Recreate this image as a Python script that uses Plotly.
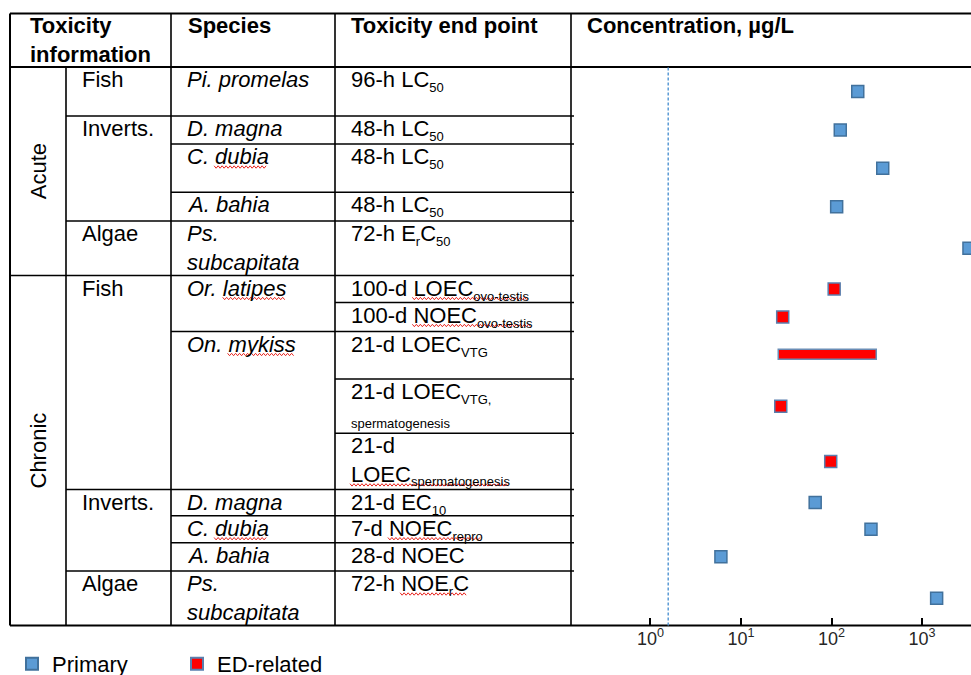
import plotly.graph_objects as go

W, H = 971, 675


def sub(s):
    return '<sub><span style="font-size:13px">' + s + '</span></sub>'


# ---------------- data ----------------
phases = ["Acute", "Chronic"]
phase_rows = [(0, 4), (5, 13)]
groups = ["Fish", "Inverts.", "Algae", "Fish", "Inverts.", "Algae"]
group_rows = [(0, 0), (1, 3), (4, 4), (5, 9), (10, 12), (13, 13)]
species = ["Pi. promelas", "D. magna", "C. dubia", "A. bahia", "Ps.<br>subcapitata",
           "Or. latipes", "On. mykiss", "D. magna", "C. dubia", "A. bahia", "Ps.<br>subcapitata"]
species_rows = [(0, 0), (1, 1), (2, 2), (3, 3), (4, 4), (5, 6), (7, 9),
                (10, 10), (11, 11), (12, 12), (13, 13)]
endpoints = [
    "96-h LC" + sub("50"),
    "48-h LC" + sub("50"),
    "48-h LC" + sub("50"),
    "48-h LC" + sub("50"),
    "72-h E" + sub("r") + "C" + sub("50"),
    "100-d LOEC" + sub("ovo-testis"),
    "100-d NOEC" + sub("ovo-testis"),
    "21-d LOEC" + sub("VTG"),
    "21-d LOEC" + sub("VTG,") + '<br><span style="font-size:13px">spermatogenesis</span>',
    "21-d<br>LOEC" + sub("spermatogenesis"),
    "21-d EC" + sub("10"),
    "7-d NOEC" + sub("repro"),
    "28-d NOEC",
    "72-h NOE" + sub("r") + "C",
]
primary_rows = [0, 1, 2, 3, 4, 10, 11, 12, 13]
primary_conc = [195, 125, 368, 114, 3300, 66, 273, 6.0, 1450]
ed_rows = [5, 6, 8, 9]
ed_conc = [107, 28.9, 27.5, 98]
ed_range_row = 7
ed_range_conc = [26.3, 318]
threshold_conc = 1.57
tick_vals = [1, 10, 100, 1000]
tick_labels = ["10<sup>0</sup>", "10<sup>1</sup>", "10<sup>2</sup>", "10<sup>3</sup>"]
headers = ["Toxicity<br>information", "Species", "Toxicity end point", "Concentration, µg/L"]

# ---------------- layout geometry (pixels) ----------------
col_x = [10, 66, 171, 335, 571, 971]
top_y = 13.5
row_y = [67, 116, 144, 192.3, 221, 275.5, 302.5, 331.5, 379, 433.3, 489.5,
         515.7, 542.7, 571, 625.5]
FONT = "Liberation Sans, Arial, sans-serif"
FS = 22
SUBFS = 13


def px(x):
    return x / W


def py(y):
    return 1 - y / H


def center(r):
    return (row_y[r] + row_y[r + 1]) / 2


shapes = []


def hline(x0, x1, y, w=1.6):
    shapes.append(dict(type="line", xref="paper", yref="paper", x0=px(x0), x1=px(x1),
                       y0=py(y), y1=py(y), line=dict(color="black", width=w)))


def vline(x, y0, y1, w=1.6):
    shapes.append(dict(type="line", xref="paper", yref="paper", x0=px(x), x1=px(x),
                       y0=py(y0), y1=py(y1), line=dict(color="black", width=w)))


# outer / header lines
hline(col_x[0], W, top_y, 2)
hline(col_x[0], W, row_y[0], 2)
hline(col_x[0], W, row_y[-1], 2)
vline(col_x[0], top_y, row_y[-1], 2)
vline(col_x[1], row_y[0], row_y[-1])
for cx in col_x[2:5]:
    vline(cx, top_y, row_y[-1])

# interior row lines
phase_starts = {a for a, b in phase_rows}
group_starts = {a for a, b in group_rows}
species_starts = {a for a, b in species_rows}
for k in range(1, len(row_y) - 1):
    if k in phase_starts:
        x0 = col_x[0]
    elif k in group_starts:
        x0 = col_x[1]
    elif k in species_starts:
        x0 = col_x[2]
    else:
        x0 = col_x[3]
    hline(x0, col_x[4] + 3, row_y[k])

annotations = []


def text(x, y, s, size=FS, bold=False, italic=False, color="black"):
    if italic:
        s = "<i>" + s + "</i>"
    if bold:
        s = "<b>" + s + "</b>"
    annotations.append(dict(x=px(x), y=py(y), xref="paper", yref="paper", text=s,
                            showarrow=False, xanchor="left", yanchor="top", align="left",
                            font=dict(family=FONT, size=size, color=color), borderpad=0))


PAD = 15
TOFF = -1
text(29, top_y + TOFF, headers[0], bold=True)
text(col_x[2] + 16, top_y + TOFF, headers[1], bold=True)
text(col_x[3] + PAD, top_y + TOFF, headers[2], bold=True)
text(col_x[4] + PAD, top_y + TOFF, headers[3], bold=True)

for name, (a, b) in zip(phases, phase_rows):
    yc = (row_y[a] + row_y[b + 1]) / 2
    annotations.append(dict(x=px((col_x[0] + col_x[1]) / 2), y=py(yc), xref="paper", yref="paper",
                            text=name, showarrow=False, textangle=-90,
                            xanchor="center", yanchor="middle",
                            font=dict(family=FONT, size=FS, color="black")))
for name, (a, b) in zip(groups, group_rows):
    text(col_x[1] + PAD, row_y[a] + TOFF, name)
for name, (a, b) in zip(species, species_rows):
    text(col_x[2] + PAD, row_y[a] + TOFF, name, italic=True)
for r, name in enumerate(endpoints):
    text(col_x[3] + PAD, row_y[r] + TOFF, name)

# ---- red spell-check squiggles (decoration) ----
AW = {' ': 278, '.': 278, '-': 333, ',': 278, 'C': 722, 'E': 667, 'L': 556, 'N': 722, 'O': 778,
      'D': 722, 'A': 667, 'P': 667, 'V': 667, 'T': 611, 'G': 778}
for ch in "0123456789abdeghnopu":
    AW[ch] = 556
AW.update({'i': 222, 'l': 222, 'k': 500, 's': 500, 'v': 500, 'y': 500, 'r': 333, 't': 278,
           'm': 833, 'c': 500, 'f': 278})


def tw(s, size=FS):
    return sum(AW.get(c, 556) for c in s) * size / 1000


def squiggle(x0, x1, y):
    pts = []
    x = x0
    up = True
    while x <= x1:
        pts.append((x, y - 1.2 if up else y + 1.2))
        up = not up
        x += 2
    path = "M " + " L ".join(f"{px(a):.5f},{py(b):.5f}" for a, b in pts)
    shapes.append(dict(type="path", xref="paper", yref="paper", path=path,
                       line=dict(color="#E8231D", width=1)))


BASE = 23
sx = col_x[2] + PAD
ex = col_x[3] + PAD
for r in (2, 11):
    squiggle(sx + tw("C. "), sx + tw("C. dubia"), row_y[r] + BASE)
squiggle(sx + tw("Or. "), sx + tw("Or. latipes"), row_y[5] + BASE)
squiggle(sx + tw("On. "), sx + tw("On. mykiss"), row_y[7] + BASE)
squiggle(ex + tw("100-d "), ex + tw("100-d LOEC") + tw("ovo-testis", SUBFS), row_y[5] + BASE)
squiggle(ex + tw("100-d "), ex + tw("100-d NOEC") + tw("ovo-testis", SUBFS), row_y[6] + BASE)
squiggle(ex, ex + tw("LOEC") + tw("spermatogenesis", SUBFS), row_y[9] + BASE + 28.6)
squiggle(ex + tw("7-d "), ex + tw("7-d NOEC") + tw("repro", SUBFS), row_y[11] + BASE)
squiggle(ex + tw("72-h "), ex + tw("72-h NOEC") + tw("r", SUBFS), row_y[13] + BASE)

# threshold dashed line
shapes.append(dict(type="line", xref="x", yref="paper", x0=threshold_conc, x1=threshold_conc,
                   y0=py(row_y[-1]), y1=py(row_y[0]),
                   line=dict(color="#5B9BD5", width=1.5, dash="3px,2px")))

# ---------------- traces ----------------
fig = go.Figure()
fig.add_trace(go.Bar(
    x=[ed_range_conc[1] - ed_range_conc[0]], base=[ed_range_conc[0]], y=[center(ed_range_row)],
    orientation="h", width=10, showlegend=False, hoverinfo="skip",
    marker=dict(color="#FF0000", line=dict(color="#6A8DB5", width=1.5))))
fig.add_trace(go.Scatter(
    x=primary_conc, y=[center(r) for r in primary_rows], mode="markers", name="Primary",
    marker=dict(symbol="square", size=12, color="#5B9BD5", line=dict(color="#41719C", width=1.5))))
fig.add_trace(go.Scatter(
    x=ed_conc, y=[center(r) for r in ed_rows], mode="markers", name="ED-related",
    marker=dict(symbol="square", size=12, color="#FF0000", line=dict(color="#5A7FAE", width=1.5))))

fig.update_layout(
    width=W, height=H, margin=dict(l=0, r=0, t=0, b=0, autoexpand=False),
    paper_bgcolor="white", plot_bgcolor="rgba(0,0,0,0)",
    bargap=0,
    xaxis=dict(type="log", domain=[px(col_x[4]), 1.0], range=[-0.878, 3.541],
               showgrid=False, zeroline=False, showline=False,
               ticks="inside", ticklen=8, tickwidth=1.5, tickcolor="black",
               tickvals=tick_vals, ticktext=tick_labels,
               tickfont=dict(family=FONT, size=18, color="#262626")),
    yaxis=dict(domain=[py(row_y[-1]), py(row_y[0])], range=[row_y[-1], row_y[0]],
               visible=False, showgrid=False, zeroline=False),
    shapes=shapes, annotations=annotations,
    showlegend=True,
    legend=dict(orientation="h", x=px(12), xanchor="left", y=py(643), yanchor="top",
                font=dict(family=FONT, size=22, color="black"),
                bgcolor="rgba(0,0,0,0)", entrywidth=120, entrywidthmode="pixels",
                itemsizing="constant", tracegroupgap=0),
)

fig.write_html(
    "out.html",
    config={"displayModeBar": False},
    post_script="document.body.style.margin='0px';"
                "document.documentElement.style.overflow='hidden';",
)
